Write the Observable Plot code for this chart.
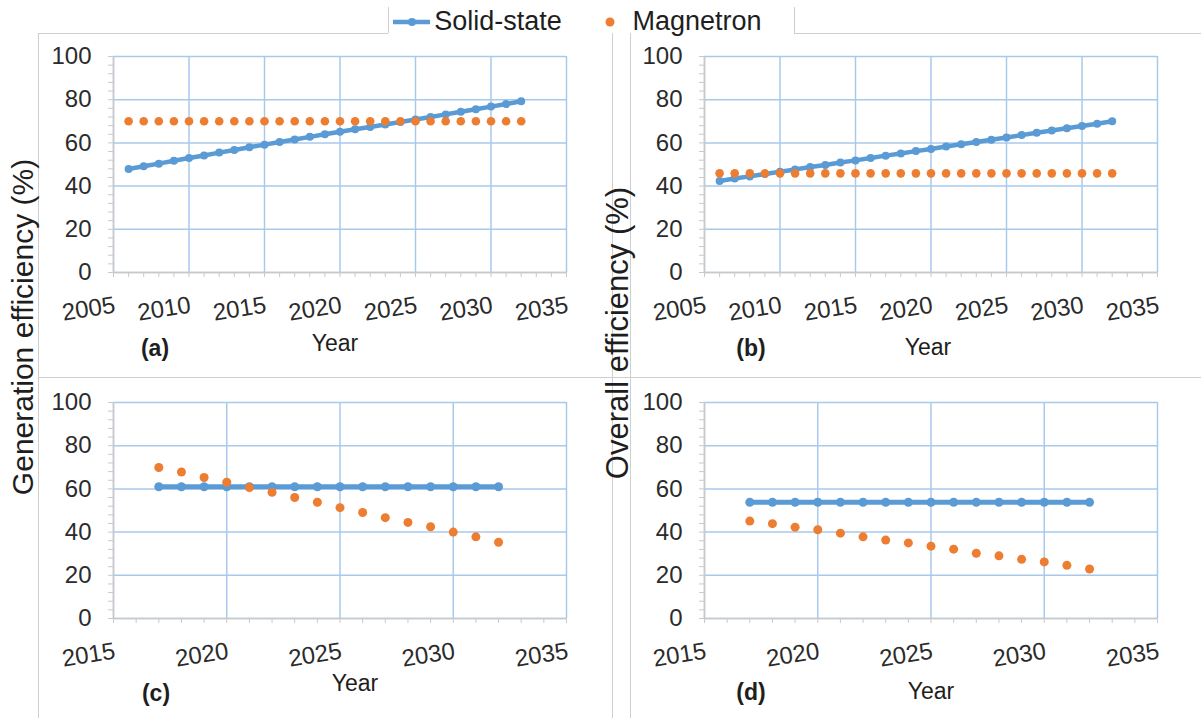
<!DOCTYPE html>
<html><head><meta charset="utf-8">
<script src="https://cdn.jsdelivr.net/npm/d3@7"></script>
<script src="https://cdn.jsdelivr.net/npm/@observablehq/plot@0.6"></script>
<style>
body{margin:0;background:#fff;}
#root{position:relative;width:1201px;height:718px;overflow:hidden;font-family:'Liberation Sans',Arial,sans-serif;color:#222;background:#fff;}
.hl{position:absolute;height:0;border-top:1.5px solid #cfcfcf;}
.vl{position:absolute;width:0;border-left:1.5px solid #cfcfcf;}
.lbl{position:absolute;white-space:nowrap;transform:translate(-50%,-50%);line-height:1;}
.ytitle{position:absolute;white-space:nowrap;transform:translate(-50%,-50%) rotate(-90deg);line-height:1;}
.chart{position:absolute;}
</style></head>
<body><div id="root"></div>
<script>
// ---- data ----
const yearsLong = [2006,2007,2008,2009,2010,2011,2012,2013,2014,2015,2016,2017,2018,2019,2020,2021,2022,2023,2024,2025,2026,2027,2028,2029,2030,2031,2032];
const solidGeneration = [47.9,49.2,50.4,51.7,53.0,54.2,55.5,56.7,58.0,59.2,60.4,61.6,62.8,64.0,65.2,66.3,67.4,68.5,69.7,70.8,72.0,73.2,74.4,75.6,76.8,78.0,79.3];
const magnetronGeneration = [70,70,70,70,70,70,70,70,70,70,70,70,70,70,70,70,70,70,70,70,70,70,70,70,70,70,70];
const solidOverall = [42.4,43.5,44.5,45.6,46.6,47.7,48.8,49.8,50.9,51.9,53.0,54.1,55.1,56.2,57.2,58.3,59.4,60.4,61.5,62.5,63.6,64.7,65.7,66.8,67.8,68.9,70.0];
const magnetronOverall = [45.9,45.9,45.9,45.9,45.9,45.9,45.9,45.9,45.9,45.9,45.9,45.9,45.9,45.9,45.9,45.9,45.9,45.9,45.9,45.9,45.9,45.9,45.9,45.9,45.9,45.9,45.9];

const yearsShort = [2017,2018,2019,2020,2021,2022,2023,2024,2025,2026,2027,2028,2029,2030,2031,2032];
const solidGenerationC = [61,61,61,61,61,61,61,61,61,61,61,61,61,61,61,61];
const magnetronGenerationC = [69.9,67.8,65.3,63.1,60.6,58.4,56.0,53.8,51.3,49.1,46.7,44.5,42.5,40.0,37.8,35.3];
const solidOverallD = [53.8,53.8,53.8,53.8,53.8,53.8,53.8,53.8,53.8,53.8,53.8,53.8,53.8,53.8,53.8,53.8];
const magnetronOverallD = [45.1,43.9,42.3,41.1,39.5,37.8,36.3,35.0,33.5,32.1,30.2,29.0,27.4,26.2,24.6,22.9];

const seriesNames = ["Solid-state","Magnetron"];
const panelTags = ["(a)","(b)","(c)","(d)"];
const yTitles = ["Generation efficiency (%)","Overall efficiency (%)"];
const xTitle = "Year";
const yTickValues = [0,20,40,60,80,100];

// ---- style ----
const BLUE = "#5b9bd5", ORANGE = "#ed7d31", GRID = "#a9c9ea", AXIS = "#c9c9c9", TEXT = "#2b2b2b";
const root = document.getElementById("root");

function el(tag, cls, css, text){
  const e = document.createElement(tag);
  if (cls) e.className = cls;
  if (css) e.style.cssText = css;
  if (text != null) e.textContent = text;
  root.appendChild(e);
  return e;
}

// frame lines (Excel chart borders)
el("div","hl","left:38px;top:33px;width:350px;");
el("div","hl","left:794px;top:33px;width:407px;");
el("div","vl","left:388px;top:7px;height:26px;");
el("div","vl","left:794px;top:7px;height:26px;");
el("div","vl","left:38px;top:33px;height:685px;");
el("div","hl","left:38px;top:377px;width:1163px;");
el("div","vl","left:612px;top:33px;height:685px;");
el("div","vl","left:630px;top:33px;height:685px;");

function panel(years, solid, magnetron, xDomain, left, top, mt, solidW, solidR, magR){
  const xMajor = d3.range(xDomain[0], xDomain[1] + 1, 5);
  const xMinor = d3.range(xDomain[0], xDomain[1] + 1, 1);
  const yMinor = d3.range(0, 101, 4);
  const sData = years.map((year, i) => ({year, value: solid[i]}));
  const mData = years.map((year, i) => ({year, value: magnetron[i]}));
  const chart = Plot.plot({
    width: 560, height: 300,
    marginLeft: 73, marginRight: 34, marginTop: mt, marginBottom: 300 - mt - 216,
    x: {domain: xDomain, axis: null},
    y: {domain: [0, 100], axis: null},
    style: {background: "transparent", fontFamily: "'Liberation Sans', Arial, sans-serif", fontSize: "24px", color: TEXT, overflow: "visible"},
    marks: [
      Plot.gridY(yTickValues, {stroke: GRID, strokeOpacity: 1, strokeWidth: 1.5}),
      Plot.gridX(xMajor, {stroke: GRID, strokeOpacity: 1, strokeWidth: 1.5}),
      Plot.axisX(xMinor, {tickSize: 5, stroke: AXIS, strokeOpacity: 1, tickFormat: () => "", label: null}),
      Plot.axisX(xMajor, {tickSize: 0, tickPadding: 23, tickRotate: -9, textAnchor: "end", lineAnchor: "top", tickFormat: d => String(d), label: null, fill: TEXT}),
      Plot.axisY(yMinor, {tickSize: 5, stroke: AXIS, strokeOpacity: 1, tickFormat: () => "", label: null}),
      Plot.axisY(yTickValues, {tickSize: 0, tickPadding: 22, tickFormat: d => String(d), label: null, fill: TEXT}),
      Plot.ruleY([0], {stroke: AXIS, strokeWidth: 1.5}),
      Plot.ruleX([xDomain[0]], {stroke: AXIS, strokeWidth: 1.5}),
      Plot.line(sData, {x: "year", y: "value", stroke: BLUE, strokeWidth: solidW}),
      Plot.dot(sData, {x: "year", y: "value", fill: BLUE, r: solidR}),
      Plot.dot(mData, {x: "year", y: "value", fill: ORANGE, r: magR})
    ]
  });
  chart.classList.add("chart");
  chart.style.left = left + "px";
  chart.style.top = top + "px";
  root.appendChild(chart);
}

panel(yearsLong, solidGeneration, magnetronGeneration, [2005, 2035], 40, 40, 16, 4.5, 4, 4.3);
panel(yearsLong, solidOverall, magnetronOverall, [2005, 2035], 631, 40, 16, 4.5, 4, 4.3);
panel(yearsShort, solidGenerationC, magnetronGenerationC, [2015, 2035], 40, 385, 17, 5, 4.5, 4.5);
panel(yearsShort, solidOverallD, magnetronOverallD, [2015, 2035], 631, 385, 17, 5, 4.5, 4.5);

// legend
const lg = document.createElementNS("http://www.w3.org/2000/svg", "svg");
lg.setAttribute("width", "300"); lg.setAttribute("height", "40");
lg.style.cssText = "position:absolute;left:385px;top:0;";
lg.innerHTML = `<line x1="8" x2="45" y1="22" y2="22" stroke="${BLUE}" stroke-width="4.5"/>
<circle cx="27" cy="22" r="4" fill="${BLUE}"/>
<circle cx="225" cy="22" r="4.5" fill="${ORANGE}"/>`;
root.appendChild(lg);
el("div","lbl","left:498px;top:21px;font-size:27px;color:#1e1e1e;", seriesNames[0]);
el("div","lbl","left:697px;top:21px;font-size:27px;color:#1e1e1e;", seriesNames[1]);

// panel tags and x titles
const tagPos = [[155,348],[751,348],[156,693],[751,692]];
const yearPos = [[335,343],[928,347],[355,683],[931,691]];
panelTags.forEach((t, i) => el("div","lbl",`left:${tagPos[i][0]}px;top:${tagPos[i][1]}px;font-size:23px;font-weight:bold;color:#1e1e1e;`, t));
yearPos.forEach(p => el("div","lbl",`left:${p[0]}px;top:${p[1]}px;font-size:23px;color:#1e1e1e;`, xTitle));

// y titles
el("div","ytitle","left:23px;top:327px;font-size:30px;color:#1e1e1e;", yTitles[0]);
el("div","ytitle","left:617px;top:333px;font-size:31px;color:#1e1e1e;", yTitles[1]);
</script>
</body></html>
